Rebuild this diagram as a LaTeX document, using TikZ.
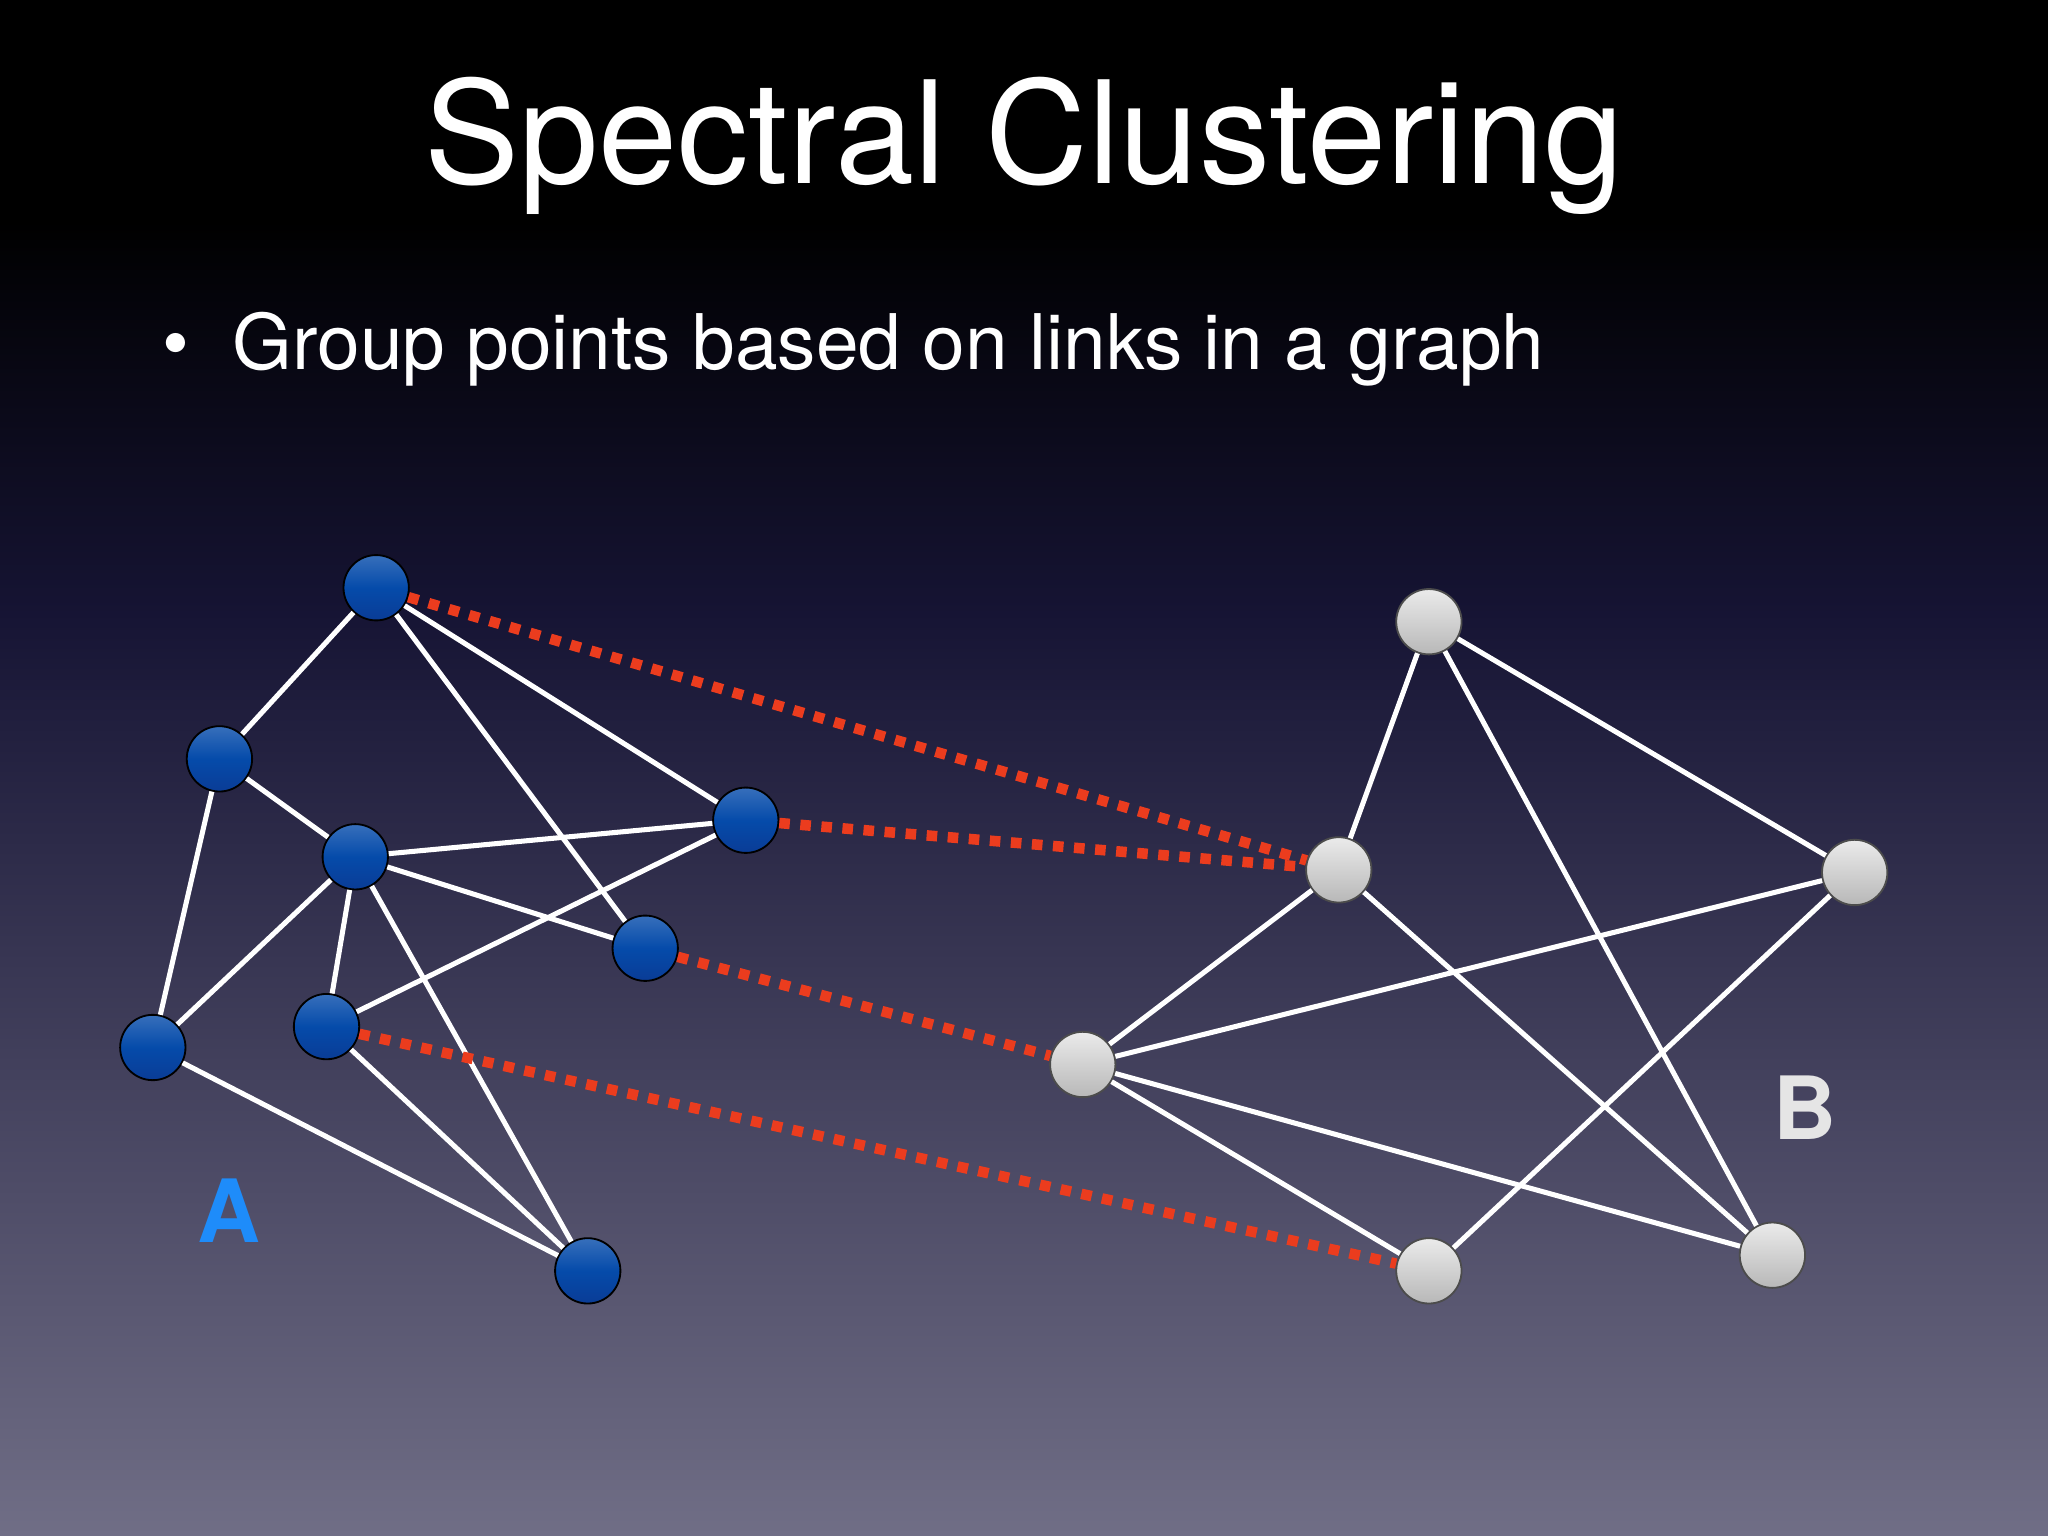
\documentclass[tikz,border=0pt]{standalone}
\usepackage{fontspec}
\setmainfont{TeX Gyre Heros}
\definecolor{bgbot}{RGB}{112,110,134}
\definecolor{bgmid}{RGB}{22,20,52}
\definecolor{bluetop}{RGB}{5,75,170}
\definecolor{bluebot}{RGB}{10,60,150}
\definecolor{bluelab}{RGB}{30,140,250}
\definecolor{reddot}{RGB}{235,60,30}
\begin{document}
\begin{tikzpicture}[x=0.01cm,y=-0.01cm,
  bnode/.style={circle,draw=black,inner sep=0pt,minimum size=0.5cm,top color=bluetop!80!white,bottom color=bluebot,middle color=bluetop},
  gnode/.style={circle,draw=black!70,inner sep=0pt,minimum size=0.5cm,top color=white!92!black,bottom color=white!72!black},
  edge/.style={white,line width=1.1pt},
  cut/.style={reddot,line width=2.3pt,dash pattern=on 2.3pt off 2.3pt}]
\fill[black] (0,0) rectangle (1568,170);
\shade[top color=black,bottom color=bgmid] (0,169) rectangle (1568,470);
\shade[top color=bgmid,bottom color=bgbot] (0,469) rectangle (1568,1176);
\useasboundingbox (0,0) rectangle (1568,1176);
\node[white,font=\fontsize{31pt}{36pt}\selectfont] (title) at (784,112) {Spectral Clustering};
\node[white,font=\fontsize{16.7pt}{20pt}\selectfont,anchor=west] (bul) at (112,267) {•\hspace{0.33cm}Group points based on links in a graph};
\node[bnode] (a1) at (288,450) {};
\node[bnode] (a2) at (168,581) {};
\node[bnode] (a3) at (272,656) {};
\node[bnode] (a4) at (571,628) {};
\node[bnode] (a5) at (494,726) {};
\node[bnode] (a6) at (250,786) {};
\node[bnode] (a7) at (117,802) {};
\node[bnode] (a8) at (450,973) {};
\node[gnode] (b1) at (1094,476) {};
\node[gnode] (b2) at (1025,666) {};
\node[gnode] (b3) at (1420,668) {};
\node[gnode] (b4) at (829,815) {};
\node[gnode] (b5) at (1094,973) {};
\node[gnode] (b6) at (1357,961) {};
\foreach \u/\v in {a1/a2,a1/a5,a1/a4,a2/a3,a2/a7,a3/a4,a3/a5,a3/a7,a3/a6,a3/a8,a6/a4,a6/a8,a7/a8,
  b1/b2,b1/b3,b1/b6,b2/b4,b2/b6,b3/b4,b3/b5,b4/b6,b4/b5}
  \draw[edge] (\u) -- (\v);
\foreach \u/\v in {a1/b2,a4/b2,a5/b4,a6/b5}
  \draw[cut] (\u) -- (\v);
\node[bluelab,font=\bfseries\fontsize{19pt}{23pt}\selectfont] (A) at (175,927) {A};
\node[white!90!black,font=\bfseries\fontsize{19pt}{23pt}\selectfont] (B) at (1382,848) {B};
\end{tikzpicture}
\end{document}
